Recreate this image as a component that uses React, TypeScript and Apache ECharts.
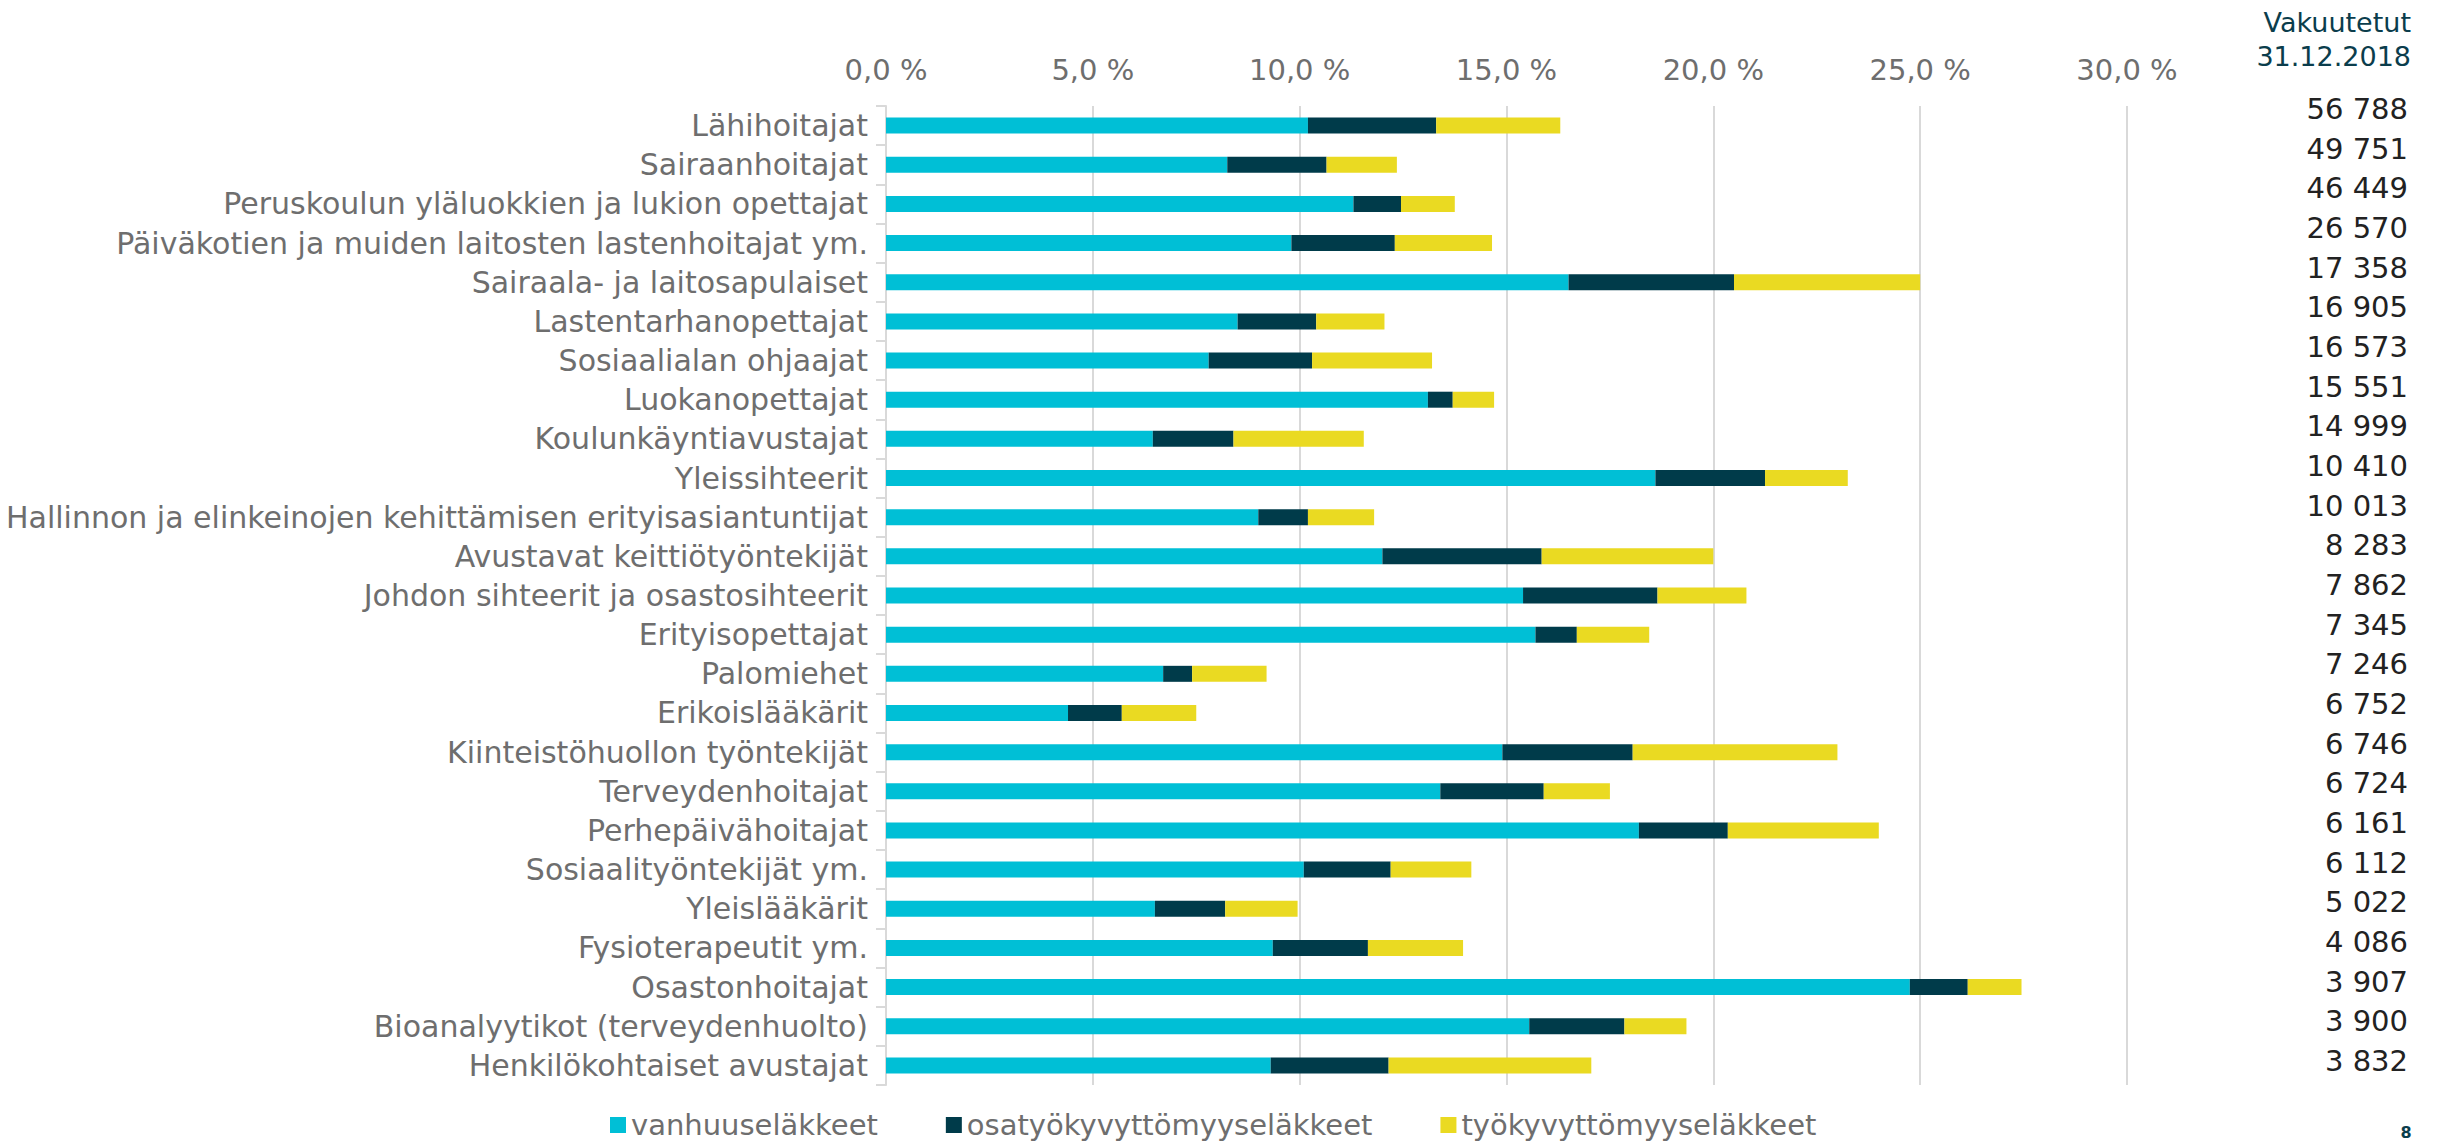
import React, { useEffect, useRef } from "react";
import * as echarts from "echarts";

const categories = [
  "Lähihoitajat",
  "Sairaanhoitajat",
  "Peruskoulun yläluokkien ja lukion opettajat",
  "Päiväkotien ja muiden laitosten lastenhoitajat ym.",
  "Sairaala- ja laitosapulaiset",
  "Lastentarhanopettajat",
  "Sosiaalialan ohjaajat",
  "Luokanopettajat",
  "Koulunkäyntiavustajat",
  "Yleissihteerit",
  "Hallinnon ja elinkeinojen kehittämisen erityisasiantuntijat",
  "Avustavat keittiötyöntekijät",
  "Johdon sihteerit ja osastosihteerit",
  "Erityisopettajat",
  "Palomiehet",
  "Erikoislääkärit",
  "Kiinteistöhuollon työntekijät",
  "Terveydenhoitajat",
  "Perhepäivähoitajat",
  "Sosiaalityöntekijät ym.",
  "Yleislääkärit",
  "Fysioterapeutit ym.",
  "Osastonhoitajat",
  "Bioanalyytikot (terveydenhuolto)",
  "Henkilökohtaiset avustajat",
];

const seriesNames = ["vanhuuseläkkeet", "osatyökyvyttömyyseläkkeet", "työkyvyttömyyseläkkeet"];

const vanhuus = [10.2, 8.25, 11.3, 9.8, 16.5, 8.5, 7.8, 13.1, 6.45, 18.6, 9.0, 12.0, 15.4, 15.7, 6.7, 4.4, 14.9, 13.4, 18.2, 10.1, 6.5, 9.35, 24.75, 15.55, 9.3];
const osatyokyvyttomyys = [3.1, 2.4, 1.15, 2.5, 4.0, 1.9, 2.5, 0.6, 1.95, 2.65, 1.2, 3.85, 3.25, 1.0, 0.7, 1.3, 3.15, 2.5, 2.15, 2.1, 1.7, 2.3, 1.4, 2.3, 2.85];
const tyokyvyttomyys = [3.0, 1.7, 1.3, 2.35, 4.5, 1.65, 2.9, 1.0, 3.15, 2.0, 1.6, 4.15, 2.15, 1.75, 1.8, 1.8, 4.95, 1.6, 3.65, 1.95, 1.75, 2.3, 1.3, 1.5, 4.9];

const insured = [56788, 49751, 46449, 26570, 17358, 16905, 16573, 15551, 14999, 10410, 10013, 8283, 7862, 7345, 7246, 6752, 6746, 6724, 6161, 6112, 5022, 4086, 3907, 3900, 3832];

const insuredHeader = ["Vakuutetut", "31.12.2018"];
const pageNumber = "8";

const colors = ["#00BFD6", "#003B4A", "#EADA22"];
const FONT = "'DejaVu Sans', Verdana, sans-serif";
const GRAY = "#6E6E6E";

const fmtThousands = (n: number) => String(n).replace(/\B(?=(\d{3})+(?!\d))/g, " ");

export default function App() {
  const ref = useRef<HTMLDivElement>(null);

  useEffect(() => {
    if (!ref.current) return;
    const chart = echarts.init(ref.current, undefined, { renderer: "svg" });

    const dataArrays = [vanhuus, osatyokyvyttomyys, tyokyvyttomyys];

    const graphic: any[] = [];
    insuredHeader.forEach((t, i) => {
      graphic.push({
        type: "text",
        x: 2411,
        y: 22 + i * 34,
        style: {
          text: t,
          fill: "#0B3D4C",
          fontSize: 27,
          fontFamily: FONT,
          textAlign: "right",
          textVerticalAlign: "middle",
          verticalAlign: "middle",
        },
      });
    });
    insured.forEach((v, i) => {
      graphic.push({
        type: "text",
        x: 2408,
        y: 109 + i * 39.67,
        style: {
          text: fmtThousands(v),
          fill: "#222222",
          fontSize: 29,
          fontFamily: FONT,
          textAlign: "right",
          textVerticalAlign: "middle",
          verticalAlign: "middle",
        },
      });
    });
    graphic.push({
      type: "text",
      x: 2406,
      y: 1124,
      style: {
        text: pageNumber,
        fill: "#0B3D4C",
        fontSize: 16,
        fontWeight: "bold",
        fontFamily: FONT,
        textAlign: "center",
        textVerticalAlign: "top",
        verticalAlign: "top",
      },
    });

    chart.setOption({
      animation: false,
      color: colors,
      textStyle: { fontFamily: FONT },
      grid: { left: 886, right: 323, top: 106, bottom: 60, containLabel: false },
      legend: {
        show: true,
        left: 605,
        top: 1105,
        icon: "rect",
        itemWidth: 16,
        itemHeight: 16,
        itemGap: 68,
        textStyle: { fontSize: 29, lineHeight: 30, color: GRAY, fontFamily: FONT },
        data: seriesNames,
      },
      xAxis: {
        type: "value",
        position: "top",
        min: 0,
        max: 30,
        interval: 5,
        axisLine: { show: false },
        axisTick: { show: false },
        splitLine: { show: true, lineStyle: { color: "#D9D9D9", width: 2 } },
        axisLabel: {
          fontSize: 29,
          color: GRAY,
          fontFamily: FONT,
          margin: 22,
          formatter: (v: number) => v.toFixed(1).replace(".", ",") + " %",
        },
      },
      yAxis: {
        type: "category",
        inverse: true,
        data: categories,
        axisLine: { show: true, lineStyle: { color: "#D9D9D9", width: 2 } },
        axisTick: { show: true, length: 10, lineStyle: { color: "#D9D9D9", width: 2 } },
        axisLabel: { fontSize: 30, color: GRAY, fontFamily: FONT, margin: 18 },
      },
      series: seriesNames.map((name, i) => ({
        name,
        type: "bar",
        stack: "total",
        barWidth: 16,
        data: dataArrays[i],
        itemStyle: { color: colors[i] },
      })),
      graphic,
    });

    return () => chart.dispose();
  }, []);

  return (
    <div
      ref={ref}
      style={{ position: "absolute", left: 0, top: 0, width: 2450, height: 1145, background: "#fff" }}
    />
  );
}
